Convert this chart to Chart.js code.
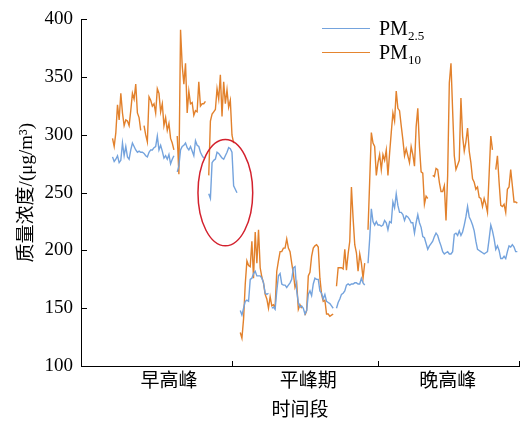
<!DOCTYPE html>
<html>
<head>
<meta charset="utf-8">
<script src="https://cdn.jsdelivr.net/npm/chart.js@4.4.1/dist/chart.umd.min.js"></script>
<style>
  body { margin: 0; background: #fff; }
  #wrap { position: relative; width: 521px; height: 424px; }
  #legend { position: absolute; left: 322px; top: 16px; font-family: 'Liberation Serif', serif; font-size: 20px; color: #000; line-height: 24px; }
  .item { display: flex; align-items: center; height: 24px; }
  .swatch { width: 48px; height: 0; border-top: 1.5px solid; margin-right: 9px; }
  sub { font-size: 13px; vertical-align: -5px; line-height: 0; }
</style>
</head>
<body>
<div id="wrap">
  <canvas id="chart" width="521" height="424"></canvas>
  <div id="legend">
    <div class="item"><span class="swatch" style="border-color:#74a3dd"></span><span>PM<sub>2.5</sub></span></div>
    <div class="item"><span class="swatch" style="border-color:#e5852f"></span><span>PM<sub>10</sub></span></div>
  </div>
</div>
<script>
/* ---------- data ---------- */
const CATEGORIES = ["早高峰", "平峰期", "晚高峰"];
const CATEGORY_POS = [53, 137, 221];     // label centres on the time axis
const BOUNDARIES = [91, 179, 264];       // section borders (tick marks)
const START = 19;                        // first sample on the time axis
const Y_TICKS = [100, 150, 200, 250, 300, 350, 400];

const PM25 = [
  281, 277, 279, 282, 276, 278, 293, 282, 290, 281,
  279, 287, 293, 290, 287, 285, 286, 285, 285, 284,
  282, 281, 285, 287, 287, 289, 290, 299, 287, 291,
  286, 280, 282, 279, 283, 275, 279, 282, null, 268,
  273, 287, 290, 291, 293, 289, 287, 290, 286, 282,
  295, 291, 290, 285, 282, 280, null, null, 249, 245,
  276, 278, 279, 285, 284, 282, 280, 279, 282, 285,
  289, 288, 285, 256, 253, 250, null, 148, 144, 150,
  156, 157, 156, 175, 176, 180, 182, 178, 178, 178,
  176, 172, 163, 162, 163, null, 150, 151, 149, 165,
  178, 180, 171, 170, 170, 168, 170, 172, 175, 185,
  186, 165, 155, 151, 152, 150, 145, 148, 162, 165,
  161, 171, 176, 175, 175, 165, 163, 158, 162, 156,
  155, 154, 152, 150, null, 150, 155, 158, 162, 163,
  165, 170, 171, 170, 171, 171, 172, 172, 171, 171,
  176, 172, 170, null, 189, 210, 236, 225, 222, 225,
  222, 222, 221, 222, 226, 224, 218, 225, 224, 242,
  237, 249, 239, 233, 233, 231, 226, 230, 229, 227,
  224, 224, 215, 224, 231, 224, 220, 212, 211, 206,
  201, 204, 206, 208, 212, 215, 213, 208, 204, 199,
  197, 198, 199, 197, 197, 199, 214, 215, 213, 217,
  213, 216, 222, 229, 238, 229, 226, 222, 217, 208,
  201, 200, 199, 198, 197, 198, 199, 210, 222, 217,
  210, 201, 204, 200, 193, 193, 195, 193, 199, 204,
  203, 205, 203, 199, 199
];

const PM10 = [
  297, 290, 302, 326, 313, 336, 319, 308, 313, 312,
  308, 321, 336, 331, 344, 319, 315, 304, null, 308,
  300, 294, 333, 330, 325, 327, 319, 340, 336, 320,
  327, 308, 315, 304, 310, 297, 293, 287, null, 299,
  266, 391, 360, 344, 362, 319, 338, 327, 328, 317,
  321, 320, 346, 325, 327, 327, 329, null, 265, 312,
  318, 320, 322, 340, 331, 352, 316, 346, 327, 339,
  324, 330, 300, 293, null, null, null, 129, 124, 141,
  171, 191, 187, 186, 208, 176, 216, 189, 218, 185,
  177, 172, 162, 158, 150, 160, 152, 153, 151, 182,
  191, 199, 199, 202, 202, 210, 202, 199, 189, 180,
  168, 172, 149, 153, 150, null, 144, 148, 178, 181,
  195, 202, 204, 205, 203, 176, 162, 156, 157, 145,
  145, 143, 144, 145, null, 169, 185, 185, 185, 184,
  201, 183, 197, 208, 255, 228, 205, 198, 182, 197,
  189, 176, 189, null, 218, 260, 302, 293, 290, 265,
  276, 283, 270, 283, 278, 287, 265, 284, 302, 319,
  312, 338, 323, 321, 308, 296, 282, 288, 282, 276,
  290, 283, 273, 307, 323, 290, 268, 267, 240, 247,
  245, null, null, 265, 264, 271, 270, 259, 251, 251,
  256, 226, 265, 345, 362, 321, 282, 270, 274, 278,
  332, 299, 286, 294, 306, 286, 276, 262, 259, 253,
  255, 246, 245, 238, 245, 240, 233, 266, 299, 287,
  null, 270, 282, 259, 239, 238, 240, 233, 253, 255,
  270, 256, 242, 242, 241
];

// highlighted region (red ellipse), in axis units
const MARK = { x: 87, y: 250, rx: 16.5, ry: 46 };

const SERIF = "'Liberation Serif', 'Noto Sans CJK SC', serif";

const toPoints = arr => arr.map((v, i) => ({ x: START + i, y: v }));

/* ---------- plugins ---------- */
const innerTicks = {
  id: "innerTicks",
  afterDraw(chart) {
    const { ctx, scales: { x, y }, chartArea } = chart;
    ctx.save();
    ctx.strokeStyle = "#000";
    ctx.lineWidth = 1;
    ctx.beginPath();
    Y_TICKS.forEach(v => {
      const py = Math.round(y.getPixelForValue(v)) + 0.5;
      ctx.moveTo(chartArea.left, py);
      ctx.lineTo(chartArea.left + 6, py);
    });
    BOUNDARIES.forEach(v => {
      const px = Math.round(x.getPixelForValue(v)) + 0.5;
      ctx.moveTo(px, chartArea.bottom);
      ctx.lineTo(px, chartArea.bottom - 5);
    });
    ctx.stroke();
    ctx.restore();
  }
};

const ellipseMark = {
  id: "ellipseMark",
  afterDatasetsDraw(chart) {
    const { ctx, scales: { x, y } } = chart;
    const cx = x.getPixelForValue(MARK.x);
    const cy = y.getPixelForValue(MARK.y);
    const rx = x.getPixelForValue(MARK.x + MARK.rx) - cx;
    const ry = cy - y.getPixelForValue(MARK.y + MARK.ry);
    ctx.save();
    ctx.strokeStyle = "#d3212d";
    ctx.lineWidth = 1.5;
    ctx.beginPath();
    ctx.ellipse(cx, cy, rx, ry, 0, 0, Math.PI * 2);
    ctx.stroke();
    ctx.restore();
  }
};

/* ---------- chart ---------- */
new Chart(document.getElementById("chart").getContext("2d"), {
  type: "line",
  data: {
    datasets: [
      { label: "PM2.5", data: toPoints(PM25), borderColor: "#74a3dd", borderWidth: 1.4, pointRadius: 0, tension: 0 },
      { label: "PM10", data: toPoints(PM10), borderColor: "#e2812c", borderWidth: 1.4, pointRadius: 0, tension: 0 },
    ],
  },
  options: {
    responsive: false,
    animation: false,
    layout: { padding: { left: 0, right: 2, top: 15, bottom: 0 } },
    plugins: { legend: { display: false }, tooltip: { enabled: false } },
    scales: {
      x: {
        type: "linear",
        min: 0,
        max: BOUNDARIES[2],
        grid: { display: false, drawTicks: false },
        border: { display: true, color: "#000", width: 1 },
        afterBuildTicks: s => { s.ticks = CATEGORY_POS.map(v => ({ value: v })); },
        afterFit: s => { s.height = 58; },
        ticks: {
          padding: 5,
          maxRotation: 0,
          autoSkip: false,
          color: "#000",
          font: { family: SERIF, size: 19 },
          callback: (v, i) => CATEGORIES[i],
        },
        title: { display: true, text: "时间段", color: "#000", font: { family: SERIF, size: 19 }, padding: { top: 0, bottom: 2 } },
      },
      y: {
        min: 100,
        max: 400,
        grid: { display: false, drawTicks: false },
        border: { display: true, color: "#000", width: 1 },
        afterBuildTicks: s => { s.ticks = Y_TICKS.map(v => ({ value: v })); },
        afterFit: s => { s.width = 81; },
        ticks: { padding: 8, color: "#000", font: { family: SERIF, size: 19 } },
        title: { display: true, text: "质量浓度/(μg/m³)", color: "#000", font: { family: SERIF, size: 19 }, padding: { top: 16, bottom: 0 } },
      },
    },
  },
  plugins: [innerTicks, ellipseMark],
});
</script>
</body>
</html>
